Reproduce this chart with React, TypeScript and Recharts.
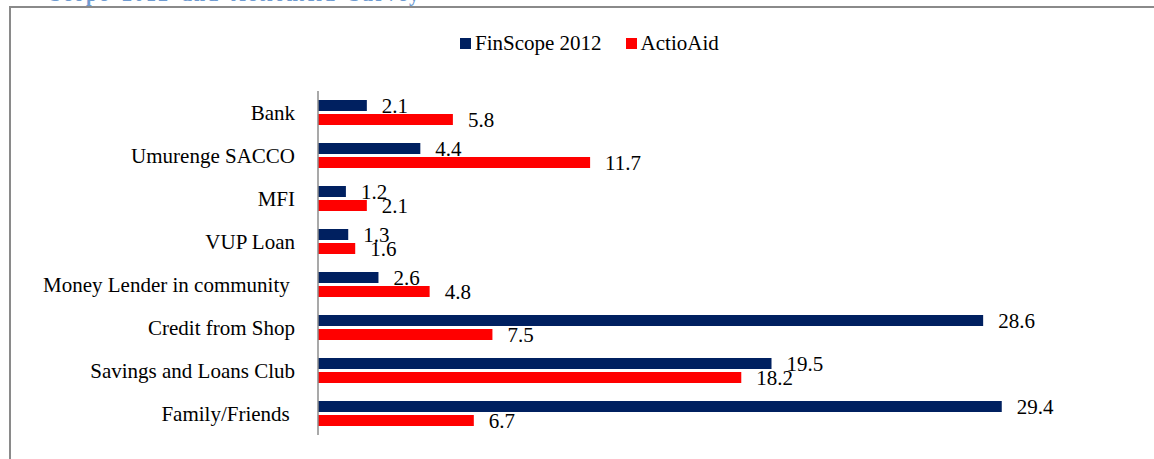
import { BarChart, Bar, XAxis, YAxis, LabelList } from "recharts";

const categories = [
  "Bank",
  "Umurenge SACCO",
  "MFI",
  "VUP Loan",
  "Money Lender in community ",
  "Credit from Shop",
  "Savings and Loans Club",
  "Family/Friends ",
];
const finscope = [2.1, 4.4, 1.2, 1.3, 2.6, 28.6, 19.5, 29.4];
const actionaid = [5.8, 11.7, 2.1, 1.6, 4.8, 7.5, 18.2, 6.7];
const seriesNames = ["FinScope 2012", "ActioAid"];
const colors = ["#002060", "#FF0000"];

const FONT = "'Liberation Serif', 'Times New Roman', serif";

const rows = categories.map((c, i) => ({
  name: c,
  finscope: finscope[i],
  actionaid: actionaid[i],
}));

const CatTick = (props: any) => {
  const { x, y, payload } = props;
  return (
    <text
      x={x}
      y={y}
      dy="0.355em"
      textAnchor="end"
      fontFamily={FONT}
      fontSize={21}
      fill="#000"
      style={{ whiteSpace: "pre" }}
    >
      {payload.value}
    </text>
  );
};

export default function App() {
  return (
    <div
      style={{
        position: "absolute",
        left: 0,
        top: 0,
        width: 1154,
        height: 459,
        overflow: "hidden",
        background: "#fff",
        fontFamily: FONT,
      }}
    >
      <svg
        width={1154}
        height={10}
        style={{ position: "absolute", left: 0, top: 0 }}
      >
        <text
          x={50}
          y={1}
          fontFamily={FONT}
          fontWeight="bold"
          fontSize={20}
          letterSpacing={2}
          wordSpacing={5}
          fill="#6f9bd1"
        >
          Scope 2012 and ActionAid Survey
        </text>
      </svg>
      <div
        style={{
          position: "absolute",
          left: 9,
          top: 6,
          width: 1200,
          height: 500,
          borderTop: "2px solid #8a8a8a",
          borderLeft: "2px solid #8a8a8a",
        }}
      />
      <div
        style={{
          position: "absolute",
          left: 460,
          top: 31,
          display: "flex",
          alignItems: "center",
          fontSize: 21,
          color: "#000",
          whiteSpace: "nowrap",
        }}
      >
        {seriesNames.map((n, i) => (
          <span
            key={n}
            style={{ display: "flex", alignItems: "center", marginRight: 24 }}
          >
            <span
              style={{
                display: "inline-block",
                width: 11,
                height: 11,
                background: colors[i],
                marginRight: 4,
              }}
            />
            {n}
          </span>
        ))}
      </div>
      <BarChart
        width={1154}
        height={459}
        data={rows}
        layout="vertical"
        margin={{ top: 91, right: 22, bottom: 24, left: 0 }}
        barSize={11}
        barGap={3}
        style={{ position: "absolute", left: 0, top: 0 }}
      >
        <XAxis type="number" domain={[0, 35]} hide />
        <YAxis
          type="category"
          dataKey="name"
          width={318}
          tickLine={false}
          tickSize={0}
          tickMargin={23}
          axisLine={{ stroke: "#8c8c8c", strokeWidth: 1.5 }}
          tick={<CatTick />}
          interval={0}
        />
        <Bar dataKey="finscope" fill={colors[0]} isAnimationActive={false}>
          <LabelList
            dataKey="finscope"
            position="right"
            offset={15}
            fill="#000"
            fontSize={21}
            fontFamily={FONT}
          />
        </Bar>
        <Bar dataKey="actionaid" fill={colors[1]} isAnimationActive={false}>
          <LabelList
            dataKey="actionaid"
            position="right"
            offset={15}
            fill="#000"
            fontSize={21}
            fontFamily={FONT}
          />
        </Bar>
      </BarChart>
    </div>
  );
}
